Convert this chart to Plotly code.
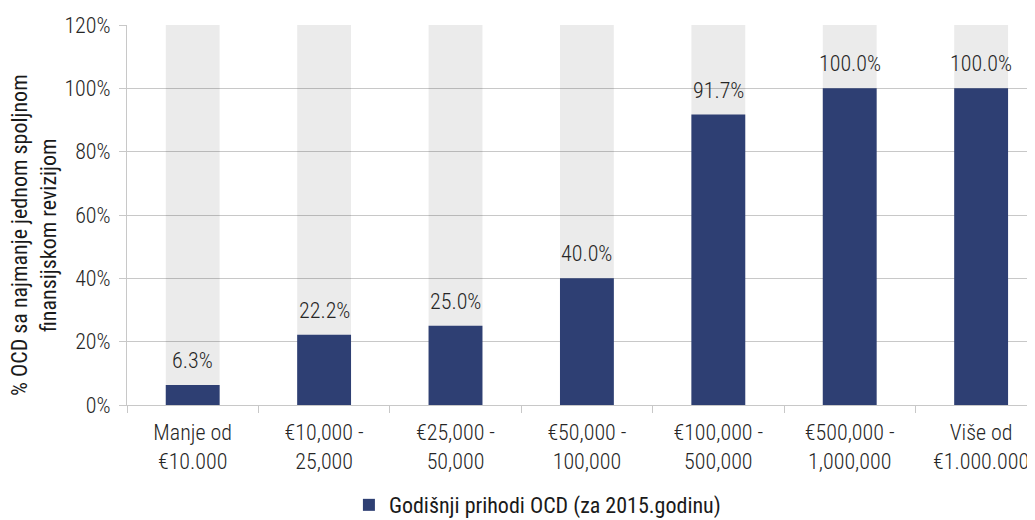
import plotly.graph_objects as go

categories = ["Manje od<br>€10.000", "€10,000 -<br>25,000", "€25,000 -<br>50,000",
              "€50,000 -<br>100,000", "€100,000 -<br>500,000", "€500,000 -<br>1,000,000",
              "Više od<br>€1.000.000"]
values = [6.3, 22.2, 25.0, 40.0, 91.7, 100.0, 100.0]
background = [120] * len(categories)
labels = [f"{v:.1f}%" for v in values]
tick_vals = [0, 20, 40, 60, 80, 100, 120]
tick_text = [f"{t}%" for t in tick_vals]
y_title = "% OCD sa najmanje jednom spoljnom<br>finansijskom revizijom"
legend_name = "Godišnji prihodi OCD (za 2015.godinu)"

FONT = "Roboto Condensed, Roboto, sans-serif"
LIGHT = dict(family=FONT, size=22, color="#262626", weight=300)

fig = go.Figure()
fig.add_trace(go.Bar(x=categories, y=background, marker=dict(color="rgba(0,0,0,0.08)", line_width=0),
                     width=0.41, showlegend=False, hoverinfo="skip"))
fig.add_trace(go.Bar(x=categories, y=values, marker=dict(color="#2e3f73", line_width=0),
                     width=0.41, name=legend_name, hoverinfo="x+y"))
for c, v, t in zip(categories, values, labels):
    fig.add_annotation(x=c, y=v, text=t, showarrow=False, yanchor="bottom",
                       yshift=10, font=LIGHT)
fig.add_annotation(xref="paper", yref="paper", x=0, y=0.5, xanchor="right", yanchor="middle",
                   xshift=-64, yshift=-20, textangle=-90, text=y_title, showarrow=False,
                   font=dict(family=FONT, size=22, color="#1a1a1a"))
# page body has an 8px margin; compensate so the plot area sits where the reference has it
fig.update_layout(
    barmode="overlay",
    width=1027, height=512,
    margin=dict(l=119, r=0, t=17, b=115, autoexpand=False),
    plot_bgcolor="white", paper_bgcolor="white",
    font=dict(family=FONT, size=22, color="#262626"),
    showlegend=True,
    legend=dict(orientation="h", x=0.452, xanchor="center", y=-0.208, yanchor="top",
                font=dict(size=22, color="#1a1a1a"), itemsizing="constant"),
    yaxis=dict(range=[0, 120], tickvals=tick_vals, ticktext=tick_text,
               showgrid=True, gridcolor="#c8c8c8", gridwidth=1,
               ticks="outside", ticklen=7, tickcolor="#c8c8c8", ticklabelstandoff=4,
               showline=True, linecolor="#c8c8c8", zeroline=False, automargin=False,
               tickfont=dict(family=FONT, size=22, color="#262626", weight=300)),
    xaxis=dict(range=[-0.5, 6.41], showline=True, linecolor="#c8c8c8", ticks="outside",
               ticklen=7, tickcolor="#c8c8c8", tickson="boundaries", tickfont=LIGHT,
               ticklabelstandoff=8, automargin=False),
)
fig.write_html("out.html")
